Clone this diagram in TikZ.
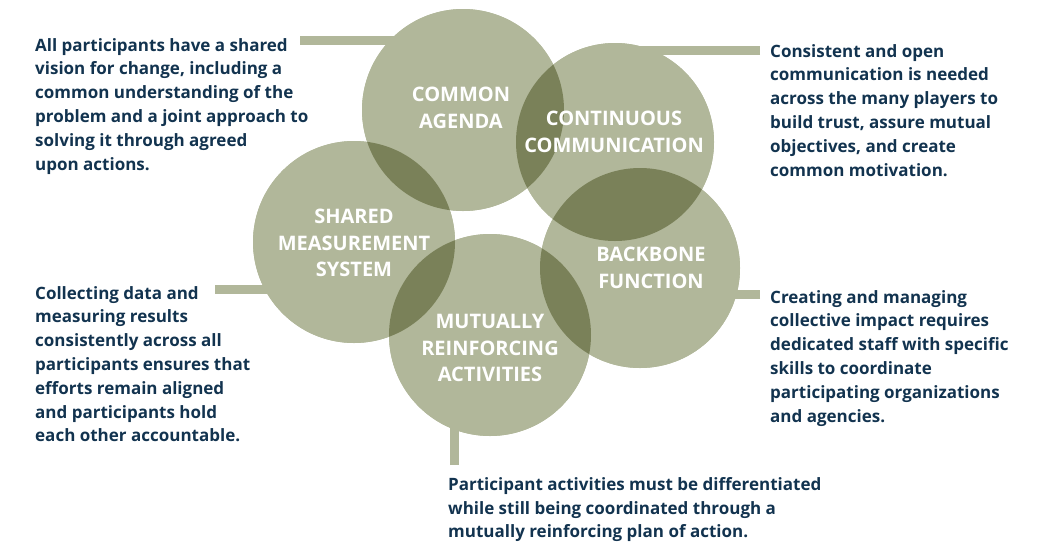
\documentclass[tikz,border=0pt]{standalone}
\usepackage{fontspec}
\setmainfont{Open Sans}[BoldFont={Open Sans Bold}]
\definecolor{lightg}{HTML}{B1B79A}
\definecolor{darkg}{HTML}{7A8159}
\definecolor{navy}{HTML}{12334F}
\begin{document}
\begin{tikzpicture}[x=1pt,y=-1pt,
  circ/.style={circle,fill=lightg,inner sep=0pt,minimum size=#1},
  lbl/.style={text=white,font=\bfseries\fontsize{20}{26.5}\selectfont,align=center,inner sep=0pt},
  desc/.style={text=navy,font=\bfseries\fontsize{17}{23.8}\selectfont,align=left,anchor=north west,inner sep=0pt},
  bar/.style={draw=lightg,line width=9pt}]
\useasboundingbox (0,0) rectangle (1042,542);
% connector free ends
\coordinate (ea) at (300,40.5);
\coordinate (ec) at (760,50.5);
\coordinate (es) at (215,289);
\coordinate (eb) at (760,294);
\coordinate (em) at (454,465);
% circles
\node[circ=202pt] (a) at (463,110) {};
\node[circ=198pt] (c) at (615,142) {};
\node[circ=200pt] (b) at (640,268) {};
\node[circ=202pt] (s) at (354,242) {};
\node[circ=202pt] (m) at (490,335) {};
% bars
\draw[bar] (ea) -- (ea -| a.center);
\draw[bar] (ec) -- (ec -| c.center);
\draw[bar] (es) -- (es -| s.center);
\draw[bar] (eb) -- (eb -| b.center);
\draw[bar] (em) -- (em |- m.center);
% redraw circles over bars
\fill[lightg] (a.center) circle[radius=101pt];
\fill[lightg] (c.center) circle[radius=99pt];
\fill[lightg] (b.center) circle[radius=100pt];
\fill[lightg] (s.center) circle[radius=101pt];
\fill[lightg] (m.center) circle[radius=101pt];
% overlaps
\begin{scope}\clip (a.center) circle[radius=101pt]; \fill[darkg] (s.center) circle[radius=101pt];\end{scope}
\begin{scope}\clip (a.center) circle[radius=101pt]; \fill[darkg] (c.center) circle[radius=99pt];\end{scope}
\begin{scope}\clip (c.center) circle[radius=99pt]; \fill[darkg] (b.center) circle[radius=100pt];\end{scope}
\begin{scope}\clip (b.center) circle[radius=100pt]; \fill[darkg] (m.center) circle[radius=101pt];\end{scope}
\begin{scope}\clip (s.center) circle[radius=101pt]; \fill[darkg] (m.center) circle[radius=101pt];\end{scope}
% labels
\node[lbl] (la) at (461,108) {COMMON\\AGENDA};
\node[lbl] (lc) at (614,132) {CONTINUOUS\\COMMUNICATION};
\node[lbl] (ls) at (354,243) {SHARED\\MEASUREMENT\\SYSTEM};
\node[lbl] (lb) at (651,268) {BACKBONE\\FUNCTION};
\node[lbl] (lm) at (490,348) {MUTUALLY\\REINFORCING\\ACTIVITIES};
% descriptions
\node[desc] (da) at (35,38) {All participants have a shared\\vision for change, including a\\common understanding of the\\problem and a joint approach to\\solving it through agreed\\upon actions.};
\node[desc] (dc) at (770,44) {Consistent and open\\communication is needed\\across the many players to\\build trust, assure mutual\\objectives, and create\\common motivation.};
\node[desc] (ds) at (35,286) {Collecting data and\\measuring results\\consistently across all\\participants ensures that\\efforts remain aligned\\and participants hold\\each other accountable.};
\node[desc] (db) at (770,290) {Creating and managing\\collective impact requires\\dedicated staff with specific\\skills to coordinate\\participating organizations\\and agencies.};
\node[desc] (dm) at (448,477) {Participant activities must be differentiated\\while still being coordinated through a\\mutually reinforcing plan of action.};
\end{tikzpicture}
\end{document}
